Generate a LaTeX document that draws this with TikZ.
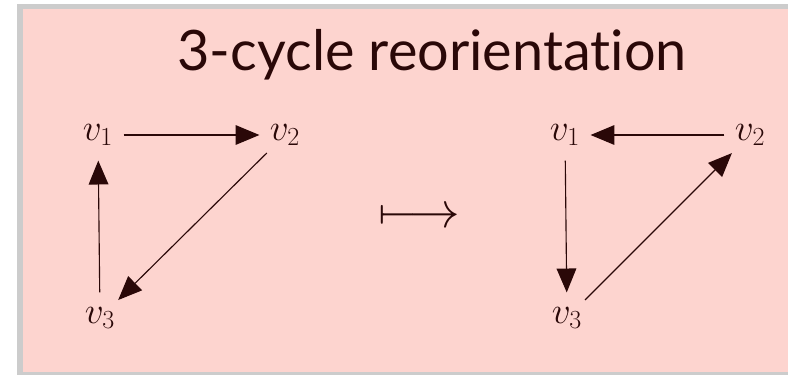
\documentclass[tikz,border=0pt]{standalone}
\usepackage{fix-cm}
\usepackage{fontspec}
\setsansfont{Lato}[Ligatures=NoCommon]
\definecolor{blush}{HTML}{FDD4CF}
\definecolor{frame}{HTML}{CCCCCC}
\definecolor{ink}{HTML}{2A0808}
\usepackage{tikz}
\usetikzlibrary{arrows.meta}

\begin{document}
\begin{tikzpicture}[scale=1.0,
  vert/.style={circle,minimum size=36pt,inner sep=0pt,text=ink,
    font=\fontsize{26.5}{30}\selectfont},
  edge/.style={ink,line width=0.8pt,-{Triangle[length=17pt,width=14pt]}}]
  \useasboundingbox (0,0) rectangle (19.7,-9.375);
  % box
  \fill[frame] (0.425,-0.1) rectangle (19.7,-9.375);
  \fill[blush] (0.575,-0.225) rectangle (19.7,-9.3);
  % title
  \node[ink,anchor=base,font=\sffamily\fontsize{39.7}{44}\selectfont] (title) at (10.8,-1.75) {3-cycle reorientation};
  % before
  \node[vert] (a1) at (2.45,-3.375) {$v_1$};
  \node[vert] (a2) at (7.125,-3.375) {$v_2$};
  \node[vert] (a3) at (2.5,-7.95) {$v_3$};
  \draw[edge] (a1) -- (a2);
  \draw[edge] (a2) -- (a3);
  \draw[edge] (a3) -- (a1);
  % map
  \node[ink,font=\fontsize{36}{40}\selectfont] (map) at (10.475,-5.45) {$\longmapsto$};
  % after
  \node[vert] (b1) at (14.125,-3.375) {$v_1$};
  \node[vert] (b2) at (18.75,-3.375) {$v_2$};
  \node[vert] (b3) at (14.175,-7.95) {$v_3$};
  \draw[edge] (b2) -- (b1);
  \draw[edge] (b1) -- (b3);
  \draw[edge] (b3) -- (b2);
\end{tikzpicture}
\end{document}
